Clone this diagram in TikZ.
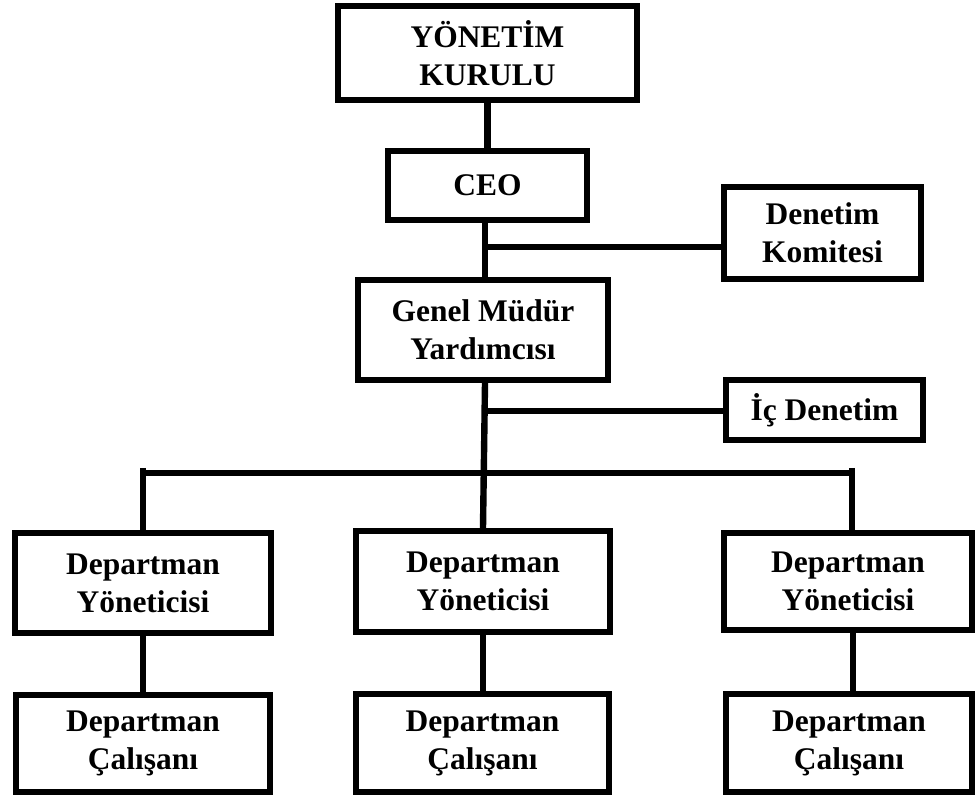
\documentclass[tikz,border=0pt]{standalone}
\usepackage{fontspec}
\setmainfont{Liberation Serif}
\begin{document}
\begin{tikzpicture}[x=0.75pt,y=-0.75pt,
  orgbox/.style={draw=black, line width=4.5pt, align=center, inner sep=0pt, fill=white,
    font=\bfseries\fontsize{23.6}{28.5}\selectfont},
  conn/.style={draw=black, line width=4.8pt}]
\useasboundingbox[fill=white] (0,0) rectangle (976,798);

% nodes
\node[orgbox, minimum width=224.25pt, minimum height=70.5pt] (yk) at (487.5,53) {YÖNETİM\\KURULU};
\node[orgbox, minimum width=149.25pt, minimum height=51.75pt] (ceo) at (487.5,185.5) {CEO};
\node[orgbox, minimum width=147.75pt, minimum height=69pt] (dk) at (822.5,233) {Denetim\\Komitesi};
\node[orgbox, minimum width=187.5pt, minimum height=75pt] (gmy) at (483,330) {Genel Müdür\\Yardımcısı};
\node[orgbox, minimum width=147.75pt, minimum height=45pt] (id) at (824.5,410) {İç Denetim};

\node[orgbox, minimum width=192pt, minimum height=75pt] (dy1) at (143,583) {Departman\\Yöneticisi};
\node[orgbox, minimum width=190.5pt, minimum height=75.75pt] (dy2) at (483,581.5) {Departman\\Yöneticisi};
\node[orgbox, minimum width=186pt, minimum height=72.75pt] (dy3) at (848,581.5) {Departman\\Yöneticisi};

\node[orgbox, minimum width=190.5pt, minimum height=72.75pt] (dc1) at (143,743.5) {Departman\\Çalışanı};
\node[orgbox, minimum width=189.75pt, minimum height=73.5pt] (dc2) at (482.5,743) {Departman\\Çalışanı};
\node[orgbox, minimum width=184.5pt, minimum height=73.5pt] (dc3) at (849,743) {Departman\\Çalışanı};

% junction coordinates
\coordinate (t1) at (485,0);
\coordinate (j1) at (485,247);
\coordinate (j2) at (485,411);
\coordinate (bl) at (143,468);
\coordinate (br) at (852,468);
\coordinate (bus1) at (143,473);
\coordinate (bus2) at (852,473);
\coordinate (rr) at (853,0);

% connectors
\begin{scope}[on background layer/.style={}]
\draw[conn] (yk.south) -- (ceo.north);
\draw[conn] (ceo.south -| t1) -- (gmy.north -| t1);
\draw[conn] (j1) -- (j1 -| dk.west);
\draw[conn] (j2) -- (j2 -| id.west);
\draw[conn] (gmy.south -| t1) -- (dy2.north);
\draw[conn] (bus1) -- (bus2);
\draw[conn] (bl) -- (bl |- dy1.north);
\draw[conn] (br) -- (br |- dy3.north);
\draw[conn] (dy1.south) -- (dc1.north);
\draw[conn] (dy2.south) -- (dy2.south |- dc2.north);
\draw[conn] (dy3.south -| rr) -- (dc3.north -| rr);
\end{scope}
\end{tikzpicture}
\end{document}
